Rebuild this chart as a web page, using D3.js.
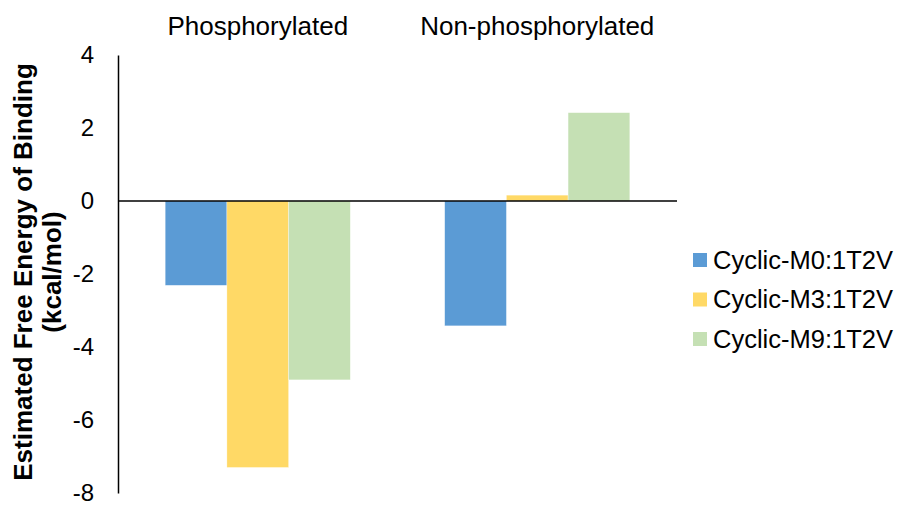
<!DOCTYPE html>
<html>
<head>
<meta charset="utf-8">
<script src="https://cdn.jsdelivr.net/npm/d3@7"></script>
<style>
  body { margin: 0; background: #fff; }
  text { font-family: "Liberation Sans", Arial, sans-serif; fill: #000; }
</style>
</head>
<body>
<div id="chart"></div>
<script>
// data
const categories = ["Phosphorylated", "Non-phosphorylated"];
const seriesNames = ["Cyclic-M0:1T2V", "Cyclic-M3:1T2V", "Cyclic-M9:1T2V"];
const seriesColors = ["#5B9BD5", "#FFD966", "#C5E0B4"];
const m0Values = [-2.31, -3.42];
const m3Values = [-7.30, 0.16];
const m9Values = [-4.90, 2.42];
const yTicks = [4, 2, 0, -2, -4, -6, -8];

const seriesValues = [m0Values, m3Values, m9Values];

const W = 901, H = 507;
const plot = { left: 118, right: 677, top: 55, bottom: 493 };

const svg = d3.select("#chart").append("svg")
  .attr("width", W)
  .attr("height", H);

const x0 = d3.scaleBand()
  .domain(categories)
  .range([plot.left, plot.right])
  .padding(0);

const x1 = d3.scaleBand()
  .domain(seriesNames)
  .range([0, x0.bandwidth()])
  .paddingInner(0)
  .paddingOuter(0.765);

const y = d3.scaleLinear()
  .domain([-8, 4])
  .range([plot.bottom, plot.top]);

// bars
const rows = [];
categories.forEach((c, ci) => {
  seriesNames.forEach((s, si) => {
    rows.push({ cat: c, series: s, value: seriesValues[si][ci], color: seriesColors[si] });
  });
});

svg.append("g")
  .selectAll("rect")
  .data(rows)
  .join("rect")
  .attr("x", d => x0(d.cat) + x1(d.series))
  .attr("width", x1.bandwidth())
  .attr("y", d => y(Math.max(0, d.value)))
  .attr("height", d => Math.abs(y(d.value) - y(0)))
  .attr("fill", d => d.color)
  .attr("stroke", "#ffffff")
  .attr("stroke-opacity", 0.5)
  .attr("stroke-width", 0.6);

// y axis (line only, labels to the left)
const yAxis = d3.axisLeft(y)
  .tickValues(yTicks)
  .tickSize(0)
  .tickPadding(24)
  .tickFormat(d => String(d));

const gy = svg.append("g")
  .attr("transform", `translate(${plot.left},0)`)
  .call(yAxis);
gy.select(".domain").attr("stroke", "#000").attr("stroke-width", 1.5);
gy.selectAll(".tick text")
  .attr("font-size", 24)
  .attr("font-family", "'Liberation Sans', Arial, sans-serif")
  .attr("fill", "#000");

// zero line
svg.append("line")
  .attr("x1", plot.left)
  .attr("x2", plot.right)
  .attr("y1", y(0))
  .attr("y2", y(0))
  .attr("stroke", "#000")
  .attr("stroke-width", 1.5);

// category labels along the top
svg.append("g")
  .selectAll("text")
  .data(categories)
  .join("text")
  .attr("x", d => x0(d) + x0.bandwidth() / 2)
  .attr("y", 35)
  .attr("text-anchor", "middle")
  .attr("font-size", 26)
  .text(d => d);

// y axis title, two lines
const title = svg.append("text")
  .attr("transform", "translate(32,272) rotate(-90)")
  .attr("text-anchor", "middle")
  .attr("font-size", 26)
  .attr("font-weight", "bold");
title.append("tspan").attr("x", 0).attr("dy", 0).text("Estimated Free Energy of Binding");
title.append("tspan").attr("x", 0).attr("dy", 29).text("(kcal/mol)");

// legend
const legend = svg.append("g")
  .selectAll("g")
  .data(seriesNames)
  .join("g")
  .attr("transform", (d, i) => `translate(693,${253 + i * 39.5})`);

legend.append("rect")
  .attr("width", 14)
  .attr("height", 14)
  .attr("fill", (d, i) => seriesColors[i]);

legend.append("text")
  .attr("x", 20)
  .attr("y", 7)
  .attr("dy", "0.35em")
  .attr("font-size", 25.5)
  .text(d => d);
</script>
</body>
</html>
